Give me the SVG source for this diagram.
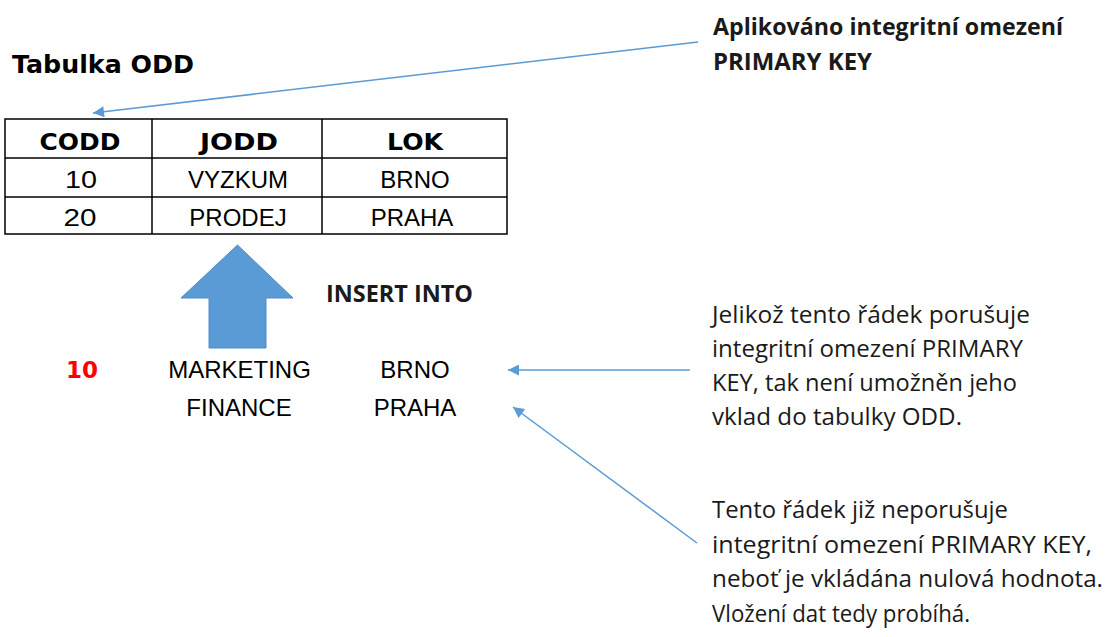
<svg xmlns="http://www.w3.org/2000/svg" width="1109" height="637" viewBox="0 0 1109 637">
<style>
.cell{font-family:"Liberation Sans",Arial,sans-serif;font-size:24px;fill:#000;text-anchor:middle}
.hdr{font-family:"DejaVu Sans",sans-serif;font-weight:bold;font-size:23px;fill:#000;text-anchor:middle}
.title{font-family:"DejaVu Sans",sans-serif;font-weight:bold;font-size:24px;fill:#000}
.note{font-family:"Open Sans","Liberation Sans",sans-serif;font-size:23px;fill:#1a1a1a}
.noteb{font-family:"Open Sans","Liberation Sans",sans-serif;font-weight:bold;font-size:23px;fill:#1a1a1a}
.grid{fill:none;stroke:#000;stroke-width:1.5}
.conn{fill:none;stroke:#5b9bd5;stroke-width:1.5}
</style>
<defs>
<marker id="ah" viewBox="0 0 10 10" refX="10" refY="5" markerWidth="14" markerHeight="11" markerUnits="userSpaceOnUse" orient="auto">
<path d="M0,0 L10,5 L0,10 Z" fill="#5b9bd5"/>
</marker>
</defs>
<rect width="1109" height="637" fill="#fff"/>

<g id="title">
<text class="title" x="12" y="73" textLength="182" lengthAdjust="spacingAndGlyphs">Tabulka ODD</text>
</g>

<g id="table">
<rect class="grid" x="5" y="119" width="502" height="115"/>
<line class="grid" x1="5" y1="158" x2="507" y2="158"/>
<line class="grid" x1="5" y1="197" x2="507" y2="197"/>
<line class="grid" x1="152" y1="119" x2="152" y2="234"/>
<line class="grid" x1="322" y1="119" x2="322" y2="234"/>
<text class="hdr" x="80" y="150" textLength="81" lengthAdjust="spacingAndGlyphs">CODD</text>
<text class="hdr" x="239" y="150" textLength="78" lengthAdjust="spacingAndGlyphs">JODD</text>
<text class="hdr" x="415" y="150" textLength="56" lengthAdjust="spacingAndGlyphs">LOK</text>
<text class="cell" x="81" y="188" textLength="32" lengthAdjust="spacingAndGlyphs">10</text>
<text class="cell" x="238" y="188">VYZKUM</text>
<text class="cell" x="415" y="188">BRNO</text>
<text class="cell" x="80" y="226" textLength="33" lengthAdjust="spacingAndGlyphs">20</text>
<text class="cell" x="238" y="226">PRODEJ</text>
<text class="cell" x="412" y="226">PRAHA</text>
</g>

<g id="insert-arrow">
<path d="M237.5,245 L293,298 L266,298 L266,348 L209,348 L209,298 L181,298 Z" fill="#5b9bd5" stroke="#4d8cc8" stroke-width="1"/>
</g>

<g id="insert-label">
<text class="noteb" x="326" y="302" textLength="147" lengthAdjust="spacingAndGlyphs">INSERT INTO</text>
</g>

<g id="new-rows">
<text class="hdr" x="82" y="378" style="fill:#ff0000">10</text>
<text class="cell" x="239.5" y="378">MARKETING</text>
<text class="cell" x="415" y="378">BRNO</text>
<text class="cell" x="239" y="416">FINANCE</text>
<text class="cell" x="415" y="416">PRAHA</text>
</g>

<g id="note-pk">
<text class="noteb" x="713" y="35" textLength="350" lengthAdjust="spacingAndGlyphs">Aplikováno integritní omezení</text>
<text class="noteb" x="713" y="70" textLength="159" lengthAdjust="spacingAndGlyphs">PRIMARY KEY</text>
</g>

<g id="note-violation">
<text class="note" x="712" y="323" textLength="318" lengthAdjust="spacingAndGlyphs">Jelikož tento řádek porušuje</text>
<text class="note" x="712" y="357" textLength="311" lengthAdjust="spacingAndGlyphs">integritní omezení PRIMARY</text>
<text class="note" x="712" y="391" textLength="305" lengthAdjust="spacingAndGlyphs">KEY, tak není umožněn jeho</text>
<text class="note" x="712" y="425" textLength="250" lengthAdjust="spacingAndGlyphs">vklad do tabulky ODD.</text>
</g>

<g id="note-ok">
<text class="note" x="712" y="518" textLength="296" lengthAdjust="spacingAndGlyphs">Tento řádek již neporušuje</text>
<text class="note" x="712" y="553" textLength="380" lengthAdjust="spacingAndGlyphs">integritní omezení PRIMARY KEY,</text>
<text class="note" x="712" y="587" textLength="391" lengthAdjust="spacingAndGlyphs">neboť je vkládána nulová hodnota.</text>
<text class="note" x="712" y="622" textLength="258" lengthAdjust="spacingAndGlyphs">Vložení dat tedy probíhá.</text>
</g>

<g id="connectors">
<line class="conn" x1="698" y1="42" x2="93" y2="113" marker-end="url(#ah)"/>
<line class="conn" x1="690" y1="370" x2="508" y2="370" marker-end="url(#ah)"/>
<line class="conn" x1="697" y1="543" x2="513" y2="407" marker-end="url(#ah)"/>
</g>
</svg>
